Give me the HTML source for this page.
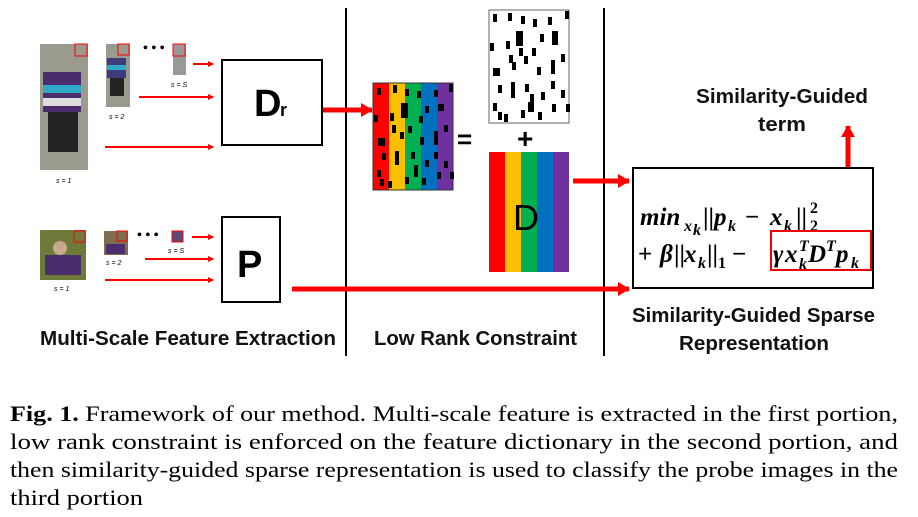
<!DOCTYPE html>
<html><head><meta charset="utf-8"><style>
body{margin:0;background:#fff;width:918px;height:517px;overflow:hidden}
svg{display:block}
.l{font-family:"Liberation Sans",sans-serif;font-weight:bold;font-size:20px;fill:#111}
.c{font-family:"Liberation Serif",serif;font-size:22px;fill:#000}
.m{font-family:"Liberation Serif",serif;font-weight:bold;font-style:italic;font-size:25px;fill:#000}
.r{font-family:"Liberation Serif",serif;font-weight:bold;font-size:25px;fill:#000}
.s{font-family:"Liberation Serif",serif;font-weight:bold;font-style:italic;font-size:16px;fill:#000}
.n{font-family:"Liberation Serif",serif;font-weight:bold;font-size:16px;fill:#000}
</style></head><body>
<svg width="918" height="517" viewBox="0 0 918 517">
<defs>
<marker id="a" markerWidth="6" markerHeight="6" refX="5" refY="3" orient="auto" markerUnits="userSpaceOnUse"><path d="M0,0 L6,3 L0,6z" fill="red"/></marker>
<marker id="b" markerWidth="12" markerHeight="14" refX="11" refY="7" orient="auto" markerUnits="userSpaceOnUse"><path d="M0,0 L12,7 L0,14z" fill="red"/></marker>
</defs>
<line x1="346" y1="8" x2="346" y2="356" stroke="#000" stroke-width="2"/>
<line x1="604" y1="8" x2="604" y2="356" stroke="#000" stroke-width="2"/>
<rect x="40" y="44" width="48" height="126" fill="#9a9a8e"/>
<rect x="43" y="72" width="38" height="40" fill="#4b2d6e"/><rect x="43" y="85" width="38" height="8" fill="#30a9c8"/><rect x="43" y="98" width="38" height="8" fill="#ddd"/>
<rect x="48" y="112" width="30" height="40" fill="#222"/>
<rect x="75" y="44" width="12" height="12" fill="none" stroke="red"/>
<rect x="106" y="44" width="24" height="63" fill="#9a9a8e"/><rect x="107" y="58" width="19" height="20" fill="#3a3d7a"/><rect x="107" y="65" width="19" height="5" fill="#30a9c8"/><rect x="110" y="78" width="14" height="18" fill="#222"/>
<rect x="118" y="44" width="11" height="11" fill="none" stroke="red"/>
<rect x="173" y="44" width="13" height="31" fill="#999"/><rect x="173" y="44" width="12" height="12" fill="none" stroke="red"/>
<text x="143" y="52" font-size="14" font-weight="bold">• • •</text>
<text x="56" y="183" font-family="Liberation Sans" font-style="italic" font-size="7">s = 1</text>
<text x="109" y="119" font-family="Liberation Sans" font-style="italic" font-size="7">s = 2</text>
<text x="171" y="87" font-family="Liberation Sans" font-style="italic" font-size="7">s = S</text>
<rect x="40" y="230" width="46" height="50" fill="#6d7a3a"/><rect x="45" y="255" width="36" height="20" fill="#4b2d6e"/><circle cx="60" cy="248" r="7" fill="#c9a78a"/>
<rect x="74" y="231" width="11" height="11" fill="none" stroke="red"/>
<rect x="104" y="231" width="24" height="24" fill="#7a7050"/><rect x="106" y="244" width="19" height="10" fill="#4b2d6e"/><rect x="117" y="231" width="10" height="10" fill="none" stroke="red"/>
<rect x="172" y="231" width="11" height="11" fill="#5a4a7a" stroke="red"/>
<text x="137" y="239" font-size="14" font-weight="bold">• • •</text>
<text x="54" y="291" font-family="Liberation Sans" font-style="italic" font-size="7">s = 1</text>
<text x="106" y="265" font-family="Liberation Sans" font-style="italic" font-size="7">s = 2</text>
<text x="168" y="253" font-family="Liberation Sans" font-style="italic" font-size="7">s = S</text>
<g stroke="red" stroke-width="2" marker-end="url(#a)">
<line x1="193" y1="64" x2="213" y2="64"/><line x1="139" y1="97" x2="213" y2="97"/><line x1="105" y1="147" x2="213" y2="147"/>
<line x1="192" y1="237" x2="213" y2="237"/><line x1="145" y1="259" x2="213" y2="259"/><line x1="105" y1="280" x2="213" y2="280"/>
</g>
<rect x="222" y="60" width="100" height="85" fill="#fff" stroke="#000" stroke-width="2"/>
<text x="254" y="116" font-family="Liberation Sans" font-weight="bold" font-size="38">D</text><text x="280" y="116" font-family="Liberation Sans" font-weight="bold" font-size="18">r</text>
<rect x="222" y="217" width="58" height="85" fill="#fff" stroke="#000" stroke-width="2"/>
<text x="237" y="277" font-family="Liberation Sans" font-weight="bold" font-size="38">P</text>
<g stroke="red" stroke-width="5" marker-end="url(#b)">
<line x1="323" y1="110" x2="372" y2="110"/>
<line x1="573" y1="181" x2="629" y2="181"/>
<line x1="292" y1="289" x2="629" y2="289"/>
<line x1="848" y1="228" x2="848" y2="126"/>
</g>
<g>
<rect x="373" y="83" width="16" height="107" fill="#f00"/><rect x="389" y="83" width="16" height="107" fill="#fbbf00"/><rect x="405" y="83" width="16" height="107" fill="#00b050"/><rect x="421" y="83" width="16" height="107" fill="#0070c0"/><rect x="437" y="83" width="16" height="107" fill="#7030a0"/>
<rect x="373" y="83" width="80" height="107" fill="none" stroke="#333"/>
<g fill="#000"><rect x="377" y="88" width="4" height="7"/><rect x="393" y="85" width="4" height="8"/><rect x="405" y="89" width="4" height="7"/><rect x="417" y="91" width="4" height="7"/><rect x="434" y="90" width="4" height="7"/><rect x="449" y="84" width="4" height="8"/><rect x="401" y="103" width="7" height="15"/><rect x="425" y="106" width="4" height="7"/><rect x="438" y="104" width="6" height="7"/><rect x="374" y="115" width="4" height="7"/><rect x="390" y="113" width="4" height="8"/><rect x="419" y="116" width="4" height="7"/><rect x="392" y="125" width="4" height="8"/><rect x="408" y="126" width="4" height="7"/><rect x="400" y="132" width="4" height="7"/><rect x="444" y="125" width="4" height="7"/><rect x="378" y="138" width="7" height="8"/><rect x="420" y="137" width="4" height="8"/><rect x="434" y="131" width="4" height="14"/><rect x="395" y="151" width="4" height="14"/><rect x="382" y="153" width="4" height="7"/><rect x="411" y="152" width="4" height="7"/><rect x="434" y="152" width="4" height="7"/><rect x="425" y="160" width="4" height="7"/><rect x="444" y="161" width="4" height="7"/><rect x="377" y="170" width="4" height="7"/><rect x="414" y="165" width="4" height="12"/><rect x="437" y="172" width="4" height="7"/><rect x="450" y="172" width="4" height="7"/><rect x="380" y="179" width="4" height="7"/><rect x="388" y="181" width="4" height="7"/><rect x="405" y="177" width="4" height="7"/><rect x="422" y="178" width="4" height="7"/></g>
</g>
<text x="457" y="148" font-family="Liberation Sans" font-weight="bold" font-size="26">=</text>
<rect x="489" y="10" width="80" height="113" fill="#fff" stroke="#666"/>
<g fill="#000"><rect x="493" y="14" width="4" height="8"/><rect x="508" y="13" width="4" height="8"/><rect x="521" y="16" width="4" height="8"/><rect x="533" y="19" width="4" height="8"/><rect x="548" y="17" width="4" height="8"/><rect x="565" y="11" width="4" height="8"/><rect x="516" y="31" width="7" height="15"/><rect x="540" y="34" width="4" height="8"/><rect x="552" y="31" width="6" height="14"/><rect x="490" y="43" width="4" height="8"/><rect x="506" y="41" width="4" height="8"/><rect x="532" y="48" width="4" height="8"/><rect x="519" y="48" width="4" height="8"/><rect x="509" y="55" width="4" height="8"/><rect x="524" y="56" width="4" height="8"/><rect x="551" y="60" width="4" height="14"/><rect x="561" y="54" width="4" height="8"/><rect x="493" y="68" width="7" height="8"/><rect x="537" y="67" width="4" height="8"/><rect x="512" y="62" width="4" height="8"/><rect x="498" y="85" width="4" height="8"/><rect x="511" y="82" width="4" height="16"/><rect x="525" y="84" width="4" height="8"/><rect x="551" y="81" width="4" height="8"/><rect x="561" y="90" width="4" height="8"/><rect x="530" y="94" width="4" height="8"/><rect x="541" y="92" width="4" height="8"/><rect x="493" y="103" width="4" height="8"/><rect x="528" y="102" width="6" height="10"/><rect x="552" y="104" width="4" height="8"/><rect x="566" y="104" width="4" height="8"/><rect x="498" y="112" width="4" height="8"/><rect x="504" y="114" width="4" height="8"/><rect x="521" y="110" width="4" height="8"/><rect x="538" y="112" width="4" height="8"/></g>
<text x="517" y="148" font-family="Liberation Sans" font-weight="bold" font-size="28">+</text>
<rect x="489" y="152" width="16" height="120" fill="#f00"/><rect x="505" y="152" width="16" height="120" fill="#fbbf00"/><rect x="521" y="152" width="16" height="120" fill="#00b050"/><rect x="537" y="152" width="16" height="120" fill="#0070c0"/><rect x="553" y="152" width="16" height="120" fill="#7030a0"/>
<text x="513" y="230" font-family="Liberation Sans" font-size="36" fill="#000">D</text>
<!-- formula -->
<rect x="633" y="168" width="240" height="120" fill="#fff" stroke="#000" stroke-width="2"/>
<text x="640" y="225" class="m">min</text>
<text x="684" y="231" class="s">x</text><text x="693" y="235" class="s" font-size="11">k</text>
<text x="703" y="225" class="r">||</text>
<text x="714" y="225" class="m">p</text><text x="728" y="231" class="s">k</text>
<text x="745" y="225" class="r">−</text>
<text x="770" y="225" class="m">x</text><text x="784" y="231" class="s">k</text>
<text x="796" y="225" class="r">||</text>
<text x="810" y="213" class="n">2</text><text x="810" y="231" class="n">2</text>
<text x="638" y="262" class="r">+</text>
<text x="660" y="262" class="m">β</text>
<text x="674" y="262" class="r">||</text>
<text x="684" y="262" class="m">x</text><text x="698" y="268" class="s">k</text>
<text x="707" y="262" class="r">||</text><text x="718" y="268" class="n">1</text>
<text x="732" y="262" class="r">−</text>
<text x="773" y="262" class="m">γ</text>
<text x="785" y="262" class="m">x</text>
<text x="799" y="269" class="s">k</text><text x="799" y="251" class="s">T</text>
<text x="808" y="262" class="m">D</text><text x="826" y="251" class="s">T</text>
<text x="836" y="262" class="m">p</text><text x="851" y="268" class="s">k</text>
<rect x="771" y="231" width="100" height="39" fill="none" stroke="#e00" stroke-width="2"/>
<text x="40" y="345" class="l" textLength="296" lengthAdjust="spacingAndGlyphs">Multi-Scale Feature Extraction</text>
<text x="374" y="345" class="l" textLength="203" lengthAdjust="spacingAndGlyphs">Low Rank Constraint</text>
<text x="632" y="322" class="l" textLength="243" lengthAdjust="spacingAndGlyphs">Similarity-Guided Sparse</text>
<text x="679" y="350" class="l" textLength="150" lengthAdjust="spacingAndGlyphs">Representation</text>
<text x="696" y="103" class="l" textLength="172" lengthAdjust="spacingAndGlyphs">Similarity-Guided</text>
<text x="758" y="131" class="l" textLength="48" lengthAdjust="spacingAndGlyphs">term</text>
<text x="10" y="421" class="c" textLength="888" lengthAdjust="spacingAndGlyphs"><tspan font-weight="bold">Fig. 1.</tspan> Framework of our method. Multi-scale feature is extracted in the first portion,</text>
<text x="10" y="449" class="c" textLength="888" lengthAdjust="spacingAndGlyphs">low rank constraint is enforced on the feature dictionary in the second portion, and</text>
<text x="10" y="477" class="c" textLength="888" lengthAdjust="spacingAndGlyphs">then similarity-guided sparse representation is used to classify the probe images in the</text>
<text x="10" y="505" class="c" textLength="133" lengthAdjust="spacingAndGlyphs">third portion</text>
</svg>
</body></html>
